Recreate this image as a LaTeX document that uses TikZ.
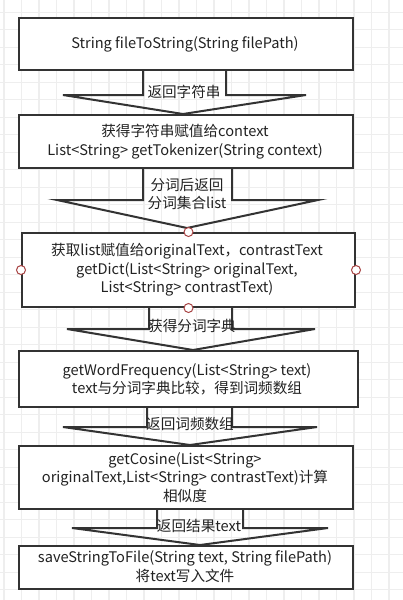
\documentclass[tikz,border=0pt]{standalone}
\usepackage{fontspec}
\setmainfont{Noto Sans CJK SC}
\begin{document}
\begin{tikzpicture}[x=1pt,y=-1pt,
  box/.style={draw=boxline,line width=2pt,fill=white},
  flow/.style={draw=boxline,line width=2pt,line join=miter},
  txt/.style={font=\fontsize{14.6}{18.5}\selectfont,text=txtcol,align=center,inner sep=0pt},
  handle/.style={circle,draw=handlecol,line width=1pt,fill=white,minimum size=9pt,inner sep=0pt}]
\definecolor{boxline}{HTML}{333333}
\definecolor{txtcol}{HTML}{222222}
\definecolor{gridcol}{HTML}{EEEEEE}
\definecolor{handlecol}{HTML}{A84444}
\useasboundingbox (0,0) rectangle (403,600);
\fill[white] (0,0) rectangle (403,600);
% grid
\foreach \i in {0,...,23} { \draw[gridcol,line width=1.2pt] ({4+17.5*\i},0) -- ({4+17.5*\i},600); }
\foreach \i in {0,...,34} { \draw[gridcol,line width=1.2pt] (0,{12.3+17.5*\i}) -- (403,{12.3+17.5*\i}); }
% arrows
\draw[flow] (143,69) -- (143,95) -- (63,95) -- (183,114) -- (306,95) -- (226,95) -- (226,69);
\draw[flow] (143,167) -- (143,200) -- (57,200) -- (187,228) -- (318,200) -- (232,200) -- (232,167);
\draw[flow] (149,306) -- (149,329) -- (67,329) -- (193,350) -- (315,329) -- (232,329) -- (232,306);
\draw[flow] (147,405.5) -- (147,427) -- (63,427) -- (190,445) -- (317,427) -- (232,427) -- (232,405.5);
\draw[flow] (157,508) -- (157,528) -- (72,528) -- (200,545) -- (328,528) -- (243,528) -- (243,508);
% boxes
\node[box,minimum width=334pt,minimum height=52pt,anchor=north west] (b1) at (18,17) {};
\node[box,minimum width=334pt,minimum height=53pt,anchor=north west] (b2) at (18,114) {};
\node[box,minimum width=333pt,minimum height=74pt,anchor=north west] (b3) at (21,232) {};
\node[box,minimum width=339pt,minimum height=55.5pt,anchor=north west] (b4) at (18,350) {};
\node[box,minimum width=334pt,minimum height=63pt,anchor=north west] (b5) at (18,445) {};
\node[box,minimum width=334pt,minimum height=42.5pt,anchor=north west] (b6) at (18,545) {};
% box texts
\node[txt] (t1) at (185,44) {String fileToString(String filePath)};
\node[txt] (t2) at (185,141.5) {获得字符串赋值给context\\List<String> getTokenizer(String context)};
\node[txt] (t3) at (187,270) {获取list赋值给originalText，contrastText\\getDict(List<String> originalText,\\List<String> contrastText)};
\node[txt] (t4) at (187,379.5) {getWordFrequency(List<String> text)\\text与分词字典比较，得到词频数组};
\node[txt] (t5) at (185,477.5) {getCosine(List<String>\\originalText,List<String> contrastText)计算\\相似度};
\node[txt] (t6) at (185,566.5) {saveStringToFile(String text, String filePath)\\将text写入文件};
% arrow labels
\node[txt] (l1) at (184,92) {返回字符串};
\node[txt] (l2) at (187,194) {分词后返回\\分词集合list};
\node[txt] (l3) at (192,326) {获得分词字典};
\node[txt] (l4) at (190,424) {返回词频数组};
\node[txt] (l5) at (199,526) {返回结果text};
% handles
\node[handle] (h1) at (b3.north) {};
\node[handle] (h2) at (b3.south) {};
\node[handle] (h3) at (b3.west) {};
\node[handle] (h4) at (b3.east) {};
\end{tikzpicture}
\end{document}
